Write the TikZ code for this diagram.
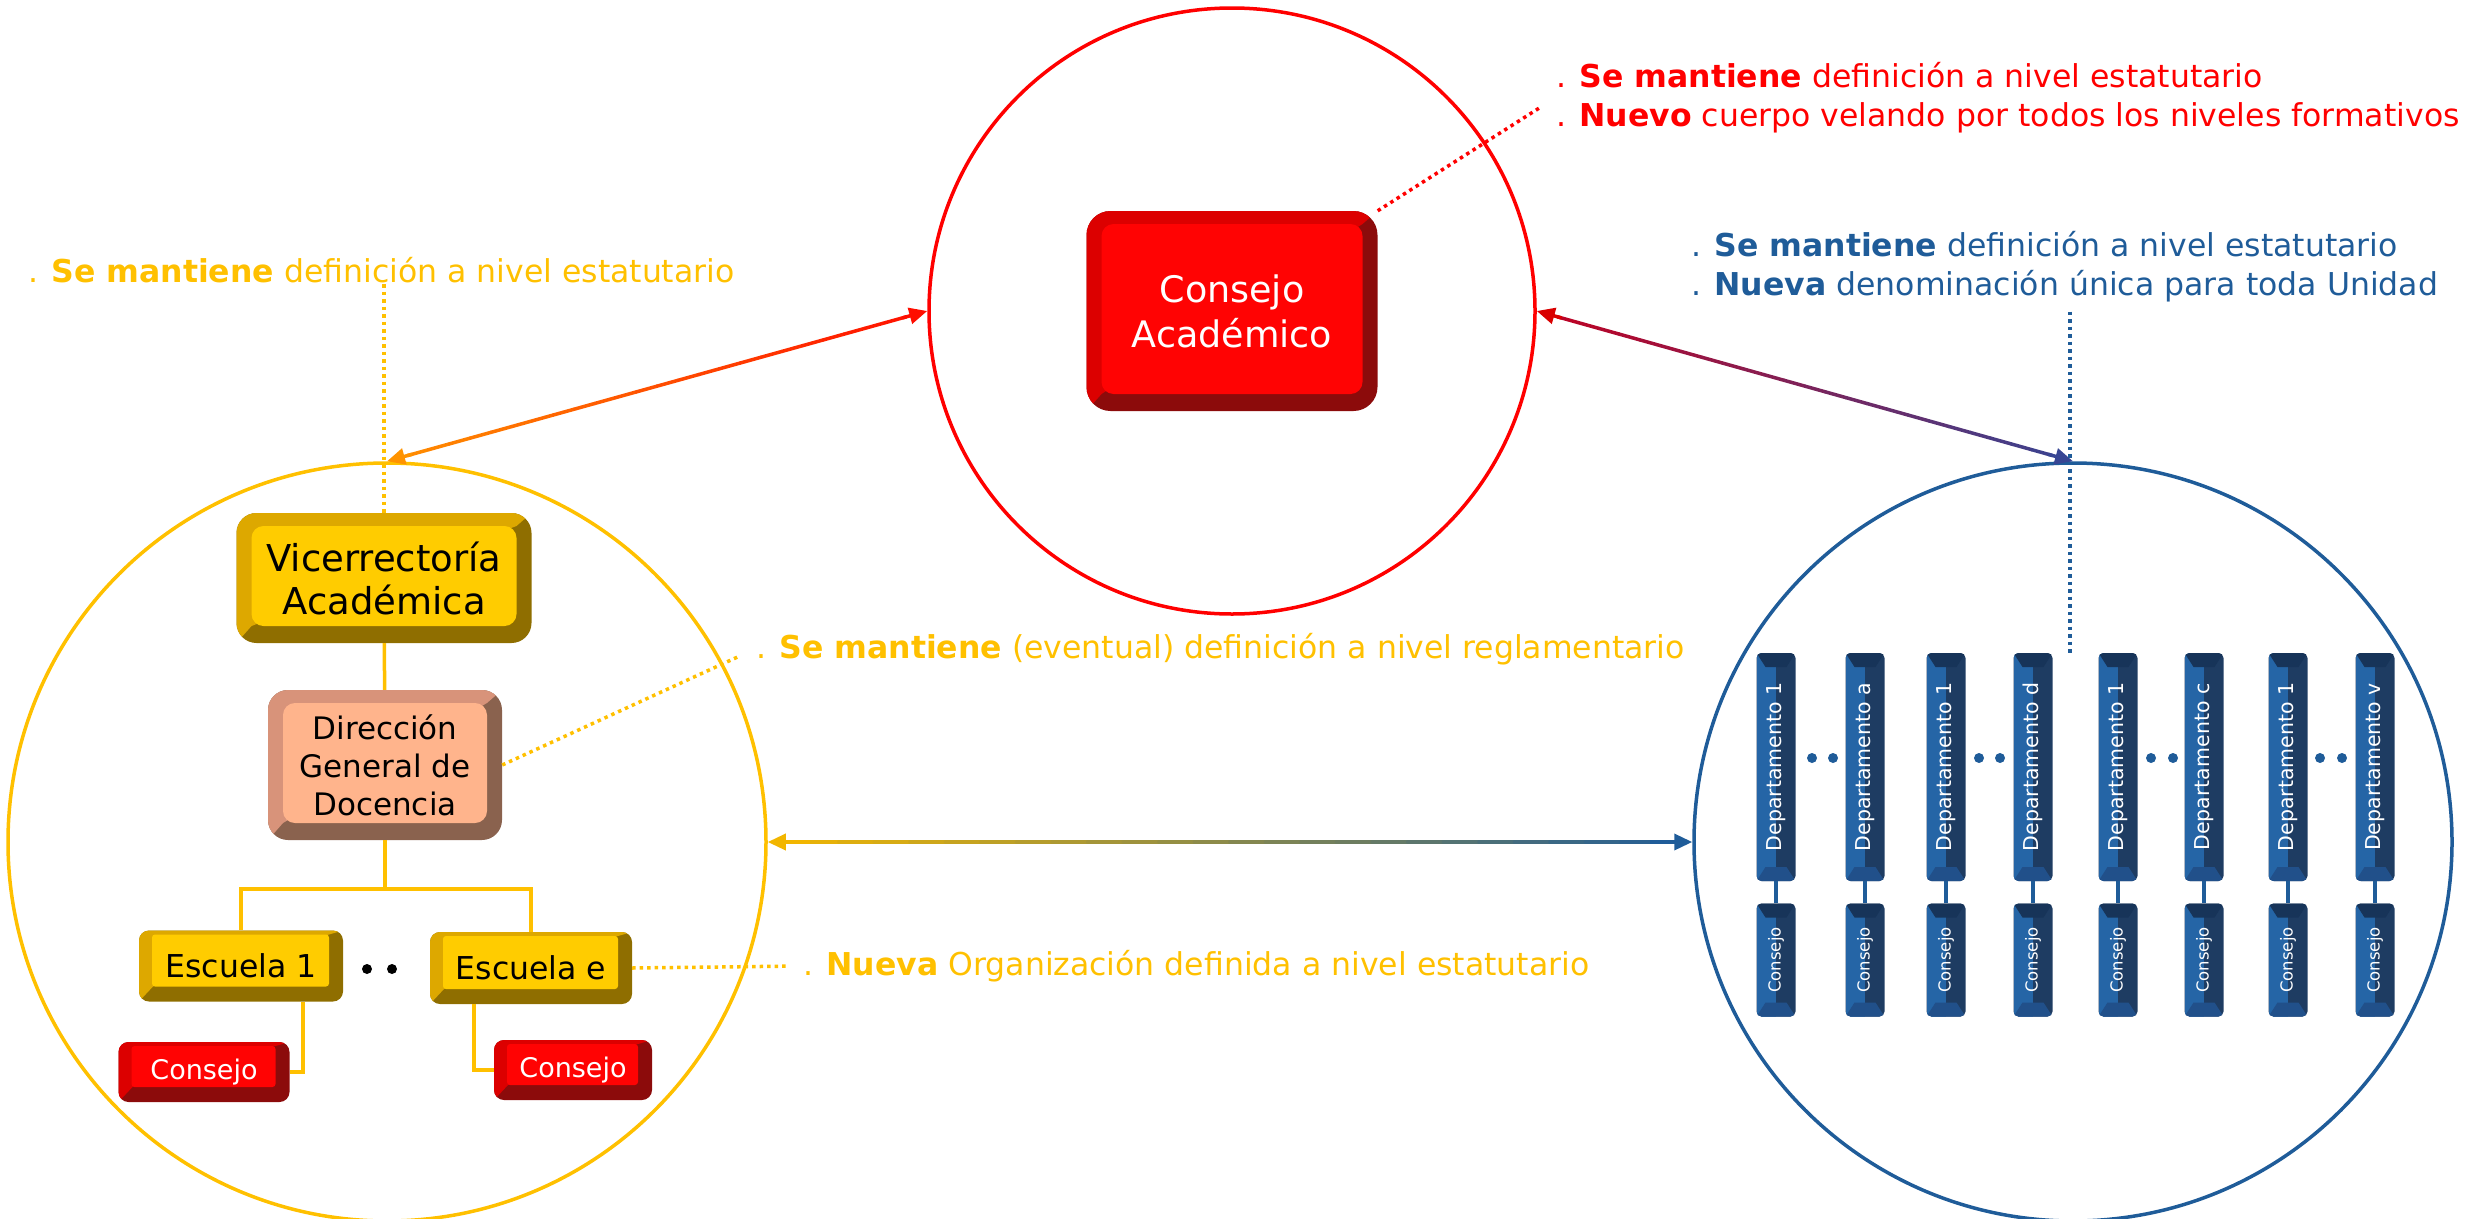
\documentclass[tikz,border=0pt]{standalone}
\usepackage{fontspec}
\setmainfont{DejaVu Sans}
\usepackage{graphicx}
\usetikzlibrary{arrows.meta,calc}

\definecolor{acadred}{HTML}{FF0000}
\definecolor{acadgold}{HTML}{FFC000}
\definecolor{acadblue}{HTML}{1F5C99}
% box colour schemes: face, lighter edge, darker edge
\definecolor{redface}{HTML}{FF0303}
\definecolor{redlite}{HTML}{DC0000}
\definecolor{reddark}{HTML}{8C0B0B}
\definecolor{goldface}{HTML}{FFCC00}
\definecolor{goldlite}{HTML}{DDA800}
\definecolor{golddark}{HTML}{8F6E00}
\definecolor{salmface}{HTML}{FFB48C}
\definecolor{salmlite}{HTML}{D8937A}
\definecolor{salmdark}{HTML}{8A624E}
\definecolor{deplite}{HTML}{2565A6}
\definecolor{depdark}{HTML}{1E3C62}
\definecolor{depcap}{HTML}{173459}
\definecolor{depfoot}{HTML}{21508A}

\newcommand\lblfont{\fontsize{31.5}{39}\selectfont}

\tikzstyle{ring}=[circle,line width=3.5pt,inner sep=0pt]
\tikzstyle{orgline}=[draw=acadgold,line width=3.5pt]
\tikzstyle{depline}=[draw=acadblue,line width=4pt]
\tikzstyle{dotline}=[line width=3.5pt,dash pattern=on 3.5pt off 4pt]
\tikzstyle{blackdot}=[circle,fill=black,minimum size=10pt,inner sep=0pt]
\tikzstyle{bluedot}=[circle,fill=acadblue,minimum size=10pt,inner sep=0pt]
\tikzstyle{note}=[anchor=west,align=left,inner sep=1pt,font=\lblfont]

\tikzset{
  bevel/.style={rounded corners=20pt,inner sep=0pt,align=center,fill=#1dark,
    path picture={
      \fill[#1lite,sharp corners] (path picture bounding box.north west) -- (path picture bounding box.north east)
        -- ([shift={(-15pt,-13pt)}]path picture bounding box.north east)
        -- ([shift={(15pt,17pt)}]path picture bounding box.south west)
        -- (path picture bounding box.south west) -- cycle;
      \fill[#1face,rounded corners=12pt] ([shift={(15pt,-13pt)}]path picture bounding box.north west)
        rectangle ([shift={(-15pt,17pt)}]path picture bounding box.south east);
    }},
  bevelsm/.style={rounded corners=10pt,inner sep=0pt,align=center,fill=#1dark,
    path picture={
      \fill[#1lite,sharp corners] (path picture bounding box.north west) -- (path picture bounding box.north east)
        -- ([shift={(-14pt,-4pt)}]path picture bounding box.north east)
        -- ([shift={(14pt,15pt)}]path picture bounding box.south west)
        -- (path picture bounding box.south west) -- cycle;
      \fill[#1face,rounded corners=3pt] ([shift={(13pt,-4pt)}]path picture bounding box.north west)
        rectangle ([shift={(-14pt,15pt)}]path picture bounding box.south east);
    }},
  depbox/.style={rounded corners=5pt,inner sep=0pt,fill=depdark,text=white,minimum width=39pt,
    path picture={
      \fill[deplite,sharp corners] (path picture bounding box.north west) rectangle (path picture bounding box.south);
      \fill[depcap,sharp corners] (path picture bounding box.north west) -- (path picture bounding box.north east)
        -- ([shift={(-9pt,-14pt)}]path picture bounding box.north east)
        -- ([shift={(9pt,-14pt)}]path picture bounding box.north west) -- cycle;
      \fill[depfoot,sharp corners] (path picture bounding box.south west) -- (path picture bounding box.south east)
        -- ([shift={(-9pt,14pt)}]path picture bounding box.south east)
        -- ([shift={(9pt,14pt)}]path picture bounding box.south west) -- cycle;
    }}
}

% double arrow whose colour runs from #3 (at #1) to #4 (at #2)
\newcommand\gradarrow[4]{%
  \foreach \k in {1,...,24}{
    \pgfmathsetmacro\ta{\k/26}
    \pgfmathsetmacro\tb{(\k+1)/26}
    \pgfmathtruncatemacro\mix{round(100-(\k+0.5)*100/26)}
    \draw[line width=3.5pt,line cap=round,color=#3!\mix!#4] ($(#1)!\ta!(#2)$) -- ($(#1)!\tb!(#2)$);
  }
  \draw[line width=3.5pt,#3,-{Triangle[length=18pt,width=16pt]}] ($(#1)!1.2/26!(#2)$) -- (#1);
  \draw[line width=3.5pt,#4,-{Triangle[length=18pt,width=16pt]}] ($(#1)!24.8/26!(#2)$) -- (#2);
}

\begin{document}
\begin{tikzpicture}[x=1pt,y=-1pt]
    \useasboundingbox (0,0) rectangle (2476,1218);

    % the three circles
    \node[ring,draw=acadred,minimum size=606pt] (topC) at (1232,311) {};
    \node[ring,draw=acadgold,minimum size=758pt] (leftC) at (387,842) {};
    \node[ring,draw=acadblue,minimum size=758pt] (rightC) at (2073,842) {};

    % links between the circles
    \gradarrow{leftC.north}{topC.west}{orange!85!yellow}{red!90!orange}
    \gradarrow{topC.east}{rightC.north}{red!85!black}{acadblue!75!violet}
    \gradarrow{leftC.east}{rightC.west}{acadgold!95!black}{acadblue}

    % notes
    \node[note,text=acadred] (noteacad) at (1555,98)
        {. \textbf{Se mantiene} definición a nivel estatutario\\. \textbf{Nuevo} cuerpo velando por todos los niveles formativos};
    \node[note,text=acadgold] (notevice) at (27,270) {. \textbf{Se mantiene} definición a nivel estatutario};
    \node[note,text=acadblue] (notedep) at (1690,267)
        {. \textbf{Se mantiene} definición a nivel estatutario\\. \textbf{Nueva} denominación única para toda Unidad};
    \node[note,text=acadgold] (notedir) at (755,649) {. \textbf{Se mantiene} (eventual) definición a nivel reglamentario};
    \node[note,text=acadgold] (noteesc) at (802,966) {. \textbf{Nueva} Organización definida a nivel estatutario};

    % Consejo Academico
    \node[bevel=red,text=white,minimum width=291pt,minimum height=200pt,rounded corners=24pt,
          font=\fontsize{36.5}{45}\selectfont] (acad) at (1232,311) {Consejo\\Académico};

    % left side: the chart
    \node[bevel=gold,minimum width=295pt,minimum height=130pt,font=\fontsize{37}{43}\selectfont] (vice) at (384,578) {Vicerrectoría\\Académica};
    \node[bevel=salm,minimum width=234pt,minimum height=150pt,font=\fontsize{31}{38}\selectfont] (dir) at (385,765) {Dirección\\General de\\Docencia};
    \node[bevelsm=gold,minimum width=204pt,minimum height=71pt,font=\fontsize{31.5}{36}\selectfont] (esc1) at (241,966) {Escuela 1};
    \node[bevelsm=gold,minimum width=202pt,minimum height=72pt,font=\fontsize{31.5}{36}\selectfont] (esce) at (531,968) {Escuela e};
    \node[bevelsm=red,text=white,minimum width=171pt,minimum height=60pt,font=\fontsize{27}{31}\selectfont] (cons1) at (204,1072) {Consejo};
    \node[bevelsm=red,text=white,minimum width=158pt,minimum height=60pt,font=\fontsize{27}{31}\selectfont] (cons2) at (573,1070) {Consejo};
    \node[blackdot] (dotA) at (367,969) {};
    \node[blackdot] (dotB) at (392,969) {};

    \coordinate (bus) at (385,889);
    \path[orgline] (vice) -- (dir);
    \path[orgline] (dir) -- (bus);
    \path[orgline] (esc1.north) |- (bus) -| (esce.north);
    \path[orgline] (cons1.east) -| ([xshift=62pt]esc1.south);
    \path[orgline] (cons2.west) -| ([xshift=-57pt]esce.south);

    % right side: departments
    \foreach \x/\name [count=\i] in {1776/1,1865/a,1946/1,2033/d,2118/1,2204/c,2288/1,2375/v} {
        \node[depbox,minimum height=228pt,font=\fontsize{20.5}{24}\selectfont] (dep\i) at (\x,767) {\rotatebox{90}{Departamento \name}};
        \node[depbox,minimum height=113pt,font=\fontsize{16.5}{19}\selectfont] (depcons\i) at (\x,960) {\rotatebox{90}{Consejo}};
        \path[depline] (dep\i) -- (depcons\i);
    }
    \foreach \x [count=\i] in {1812,1833,1979,2000,2151,2173,2320,2342}
        \node[bluedot] (bdot\i) at (\x,758) {};

    % dotted pointers
    \coordinate (deptail) at (2070,655);
    \draw[dotline,acadred,shorten >=16pt] (acad.north east) -- (noteacad.west);
    \draw[dotline,acadgold] (notevice.south -| vice.north) -- (vice.north);
    \draw[dotline,acadgold,shorten >=16pt] (dir.east) -- (notedir.west);
    \draw[dotline,acadgold,shorten >=16pt] (esce.east) -- (noteesc.west);
    \draw[dotline,acadblue] ([yshift=-8pt]notedep.south -| deptail) -- (deptail);
\end{tikzpicture}
\end{document}
